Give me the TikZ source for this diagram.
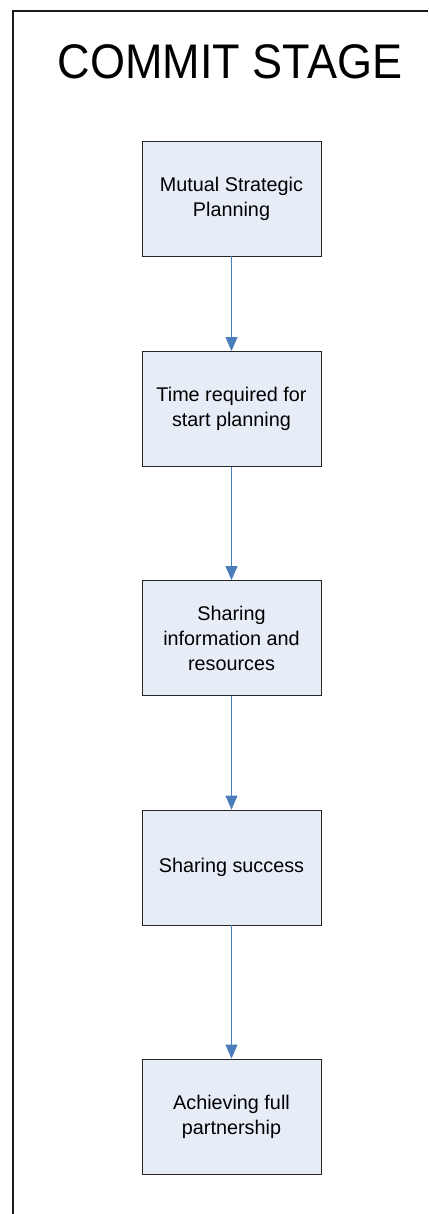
\documentclass[tikz,border=0pt]{standalone}
\usepackage{fontspec}
\setmainfont{Liberation Sans}
\usetikzlibrary{arrows.meta}
\definecolor{boxfill}{HTML}{E7EDF7}
\definecolor{arrowblue}{HTML}{4A7EBB}
\definecolor{framegray}{HTML}{1A1A1A}
\tikzset{
  stepbox/.style={draw=black!85, line width=0.9pt, fill=boxfill, minimum width=179pt, minimum height=115pt, inner sep=0pt, align=center, font=\fontsize{19.8pt}{25pt}\selectfont},
  flow/.style={draw=arrowblue, line width=0.9pt, -{Triangle[width=12pt,length=14pt]}, arrowblue},
  titletext/.style={font=\fontsize{45pt}{50pt}\selectfont, inner sep=0pt, anchor=base}
}
\begin{document}
\begin{tikzpicture}[x=1pt,y=-1pt]
\useasboundingbox (0,0) rectangle (428,1214);
\fill[white] (0,0) rectangle (428,1214);
\coordinate (fbot) at (13,1214);
\coordinate (fcorner) at (13,11);
\coordinate (fright) at (428,11);
\draw[framegray, line width=2pt] (fbot) -- (fcorner) -- (fright);
\node[titletext] (title) at (230,79) {\scalebox{1}[1.08]{COMMIT STAGE}};
\node[stepbox] (b1) at (231.5,198.5) {Mutual Strategic\\Planning};
\node[stepbox] (b2) at (231.5,409) {Time required for\\start planning};
\node[stepbox] (b3) at (231.5,638) {Sharing\\information and\\resources};
\node[stepbox] (b4) at (231.5,867.5) {Sharing success};
\node[stepbox] (b5) at (231.5,1116.5) {Achieving full\\partnership};
\draw[flow] (b1) -- (b2);
\draw[flow] (b2) -- (b3);
\draw[flow] (b3) -- (b4);
\draw[flow] (b4) -- (b5);
\end{tikzpicture}
\end{document}
